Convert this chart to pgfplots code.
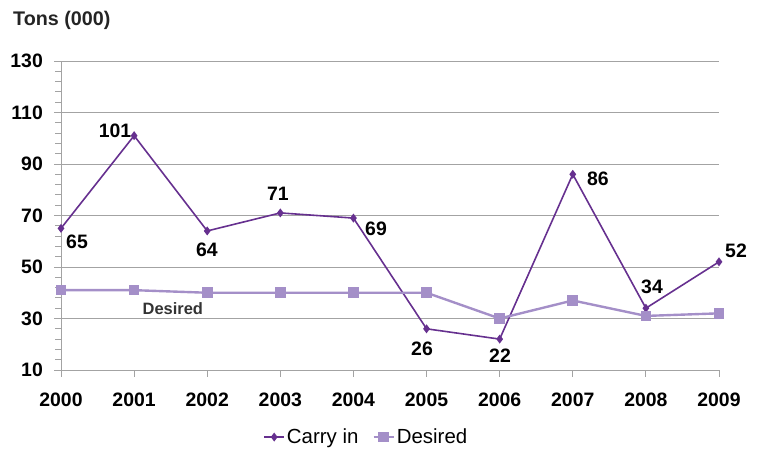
\documentclass[border=0pt]{standalone}
\usepackage{pgfplots}
\pgfplotsset{compat=1.18}
\usepackage{fontspec}
\setmainfont{Liberation Sans}

\definecolor{carry}{HTML}{66308F}
\definecolor{desired}{HTML}{A48FC8}
\definecolor{axisgray}{HTML}{A3A3A3}
\definecolor{annot}{HTML}{333333}

\newcommand{\lblfont}{\bfseries\fontsize{19.5}{21}\selectfont}

\begin{document}
\begin{tikzpicture}
\useasboundingbox (0,0) rectangle (761bp,449bp);
\node[anchor=base west, inner sep=0, font=\bfseries\fontsize{19.8}{21}\selectfont, text=annot!70!black]
  at (13bp,423bp) {Tons (000)};
\begin{axis}[
  at={(61bp,79bp)}, anchor=south west,
  scale only axis, width=658bp, height=309bp,
  xmin=2000, xmax=2009, ymin=10, ymax=130,
  axis x line*=bottom, axis y line*=left,
  axis line style={axisgray, line width=0.9pt},
  xtick={2000,2001,...,2009},
  ytick={10,30,...,130},
  minor y tick num=4,
  ymajorgrids,
  major grid style={axisgray, line width=0.9pt},
  tick align=outside,
  major tick length=7bp, minor tick length=6bp,
  tick style={axisgray, line width=0.9pt},
  /pgf/number format/assume math mode=true,
  /pgf/number format/1000 sep={},
  tick label style={font=\lblfont, text=black},
  yticklabel style={inner sep=0pt, anchor=east, xshift=-11bp},
  xticklabel style={inner sep=0pt, anchor=north, yshift=-16bp},
  clip=false,
  legend style={at={(0.464,-0.217)}, anchor=center, draw=none, fill=none,
    legend columns=2, font=\fontsize{20.5}{22}\selectfont,
    /tikz/every even column/.append style={column sep=12bp},
    inner sep=0pt},
  legend cell align=left,
  legend image code/.code={%
    \draw[mark repeat=2, mark phase=2] plot coordinates {(0bp,0bp) (10bp,0bp) (20bp,0bp)};},
]
\addplot[carry, line width=1.6pt, mark=diamond*, mark size=3.2bp,
  mark options={solid, fill=carry}]
  coordinates {
  (2000,65) (2001,101) (2002,64) (2003,71) (2004,69)
  (2005,26) (2006,22) (2007,86) (2008,34) (2009,52)};
\addlegendentry{Carry in}
\addplot[desired, line width=2.4pt, mark=square*, mark size=4.8bp,
  mark options={solid, fill=desired, line width=0pt}]
  coordinates {
  (2000,41) (2001,41) (2002,40) (2003,40) (2004,40)
  (2005,40) (2006,30) (2007,37) (2008,31) (2009,32)};
\addlegendentry{Desired}

\begin{scope}[every node/.style={font=\lblfont, inner sep=0pt, anchor=center}]
\node at (axis cs:2000.219,59.7) {65};
\node at (axis cs:2000.739,103.0) {101};
\node at (axis cs:2001.997,56.6) {64};
\node at (axis cs:2002.968,78.4) {71};
\node at (axis cs:2004.309,64.8) {69};
\node at (axis cs:2004.938,18.2) {26};
\node at (axis cs:2006.005,15.4) {22};
\node at (axis cs:2007.345,84.2) {86};
\node at (axis cs:2008.084,42.2) {34};
\node at (axis cs:2009.233,56.2) {52};
\end{scope}
\node[font=\bfseries\fontsize{16.5}{18}\selectfont, text=annot, inner sep=0pt]
  at (axis cs:2001.53,33.8) {Desired};
\end{axis}
\end{tikzpicture}
\end{document}
